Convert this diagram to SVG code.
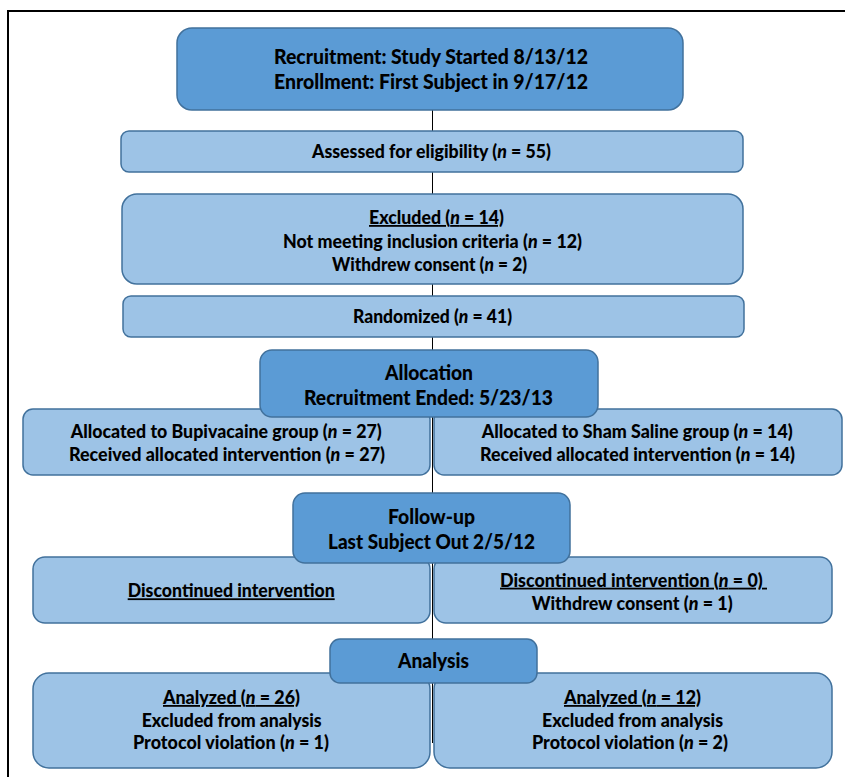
<svg xmlns="http://www.w3.org/2000/svg" width="845" height="777" viewBox="0 0 845 777">
<style>
text{font-family:Lato,"Liberation Sans",sans-serif;font-weight:900;fill:#000;text-anchor:start}
.s{font-size:18px}
.h{font-size:20px}
.i{font-style:italic}
.u{text-decoration:underline}
.dark{fill:#5b9bd5;stroke:#41719c;stroke-width:1.5}
.light{fill:#9dc3e6;stroke:#41719c;stroke-width:1.5}
</style>
<rect x="8" y="11" width="900" height="900" fill="#fff" stroke="#000" stroke-width="2"/>
<g id="connectors">
<line x1="432.5" y1="110" x2="432.5" y2="743" stroke="#000" stroke-width="1"/>
</g>
<g id="recruitment">
<rect class="dark" x="177" y="28" width="506" height="82" rx="15"/>
<text class="h" x="274" y="63.5" textLength="314" lengthAdjust="spacingAndGlyphs">Recruitment: Study Started 8/13/12</text>
<text class="h" x="274" y="89" textLength="314" lengthAdjust="spacingAndGlyphs">Enrollment: First Subject in 9/17/12</text>
</g>
<g id="assessed">
<rect class="light" x="121" y="131" width="622" height="41" rx="8"/>
<text class="s" x="312" y="157.7" textLength="239" lengthAdjust="spacingAndGlyphs">Assessed for eligibility (<tspan class="i">n</tspan> = 55)</text>
</g>
<g id="excluded">
<rect class="light" x="122" y="194" width="621" height="90" rx="15"/>
<text class="s u" x="369" y="224" textLength="135" lengthAdjust="spacingAndGlyphs">Excluded (<tspan class="i">n</tspan> = 14)</text>
<text class="s" x="283" y="247.7" textLength="299" lengthAdjust="spacingAndGlyphs">Not meeting inclusion criteria (<tspan class="i">n</tspan> = 12)</text>
<text class="s" x="332" y="270.7" textLength="195" lengthAdjust="spacingAndGlyphs">Withdrew consent (<tspan class="i">n</tspan> = 2)</text>
</g>
<g id="randomized">
<rect class="light" x="123" y="296" width="621" height="41" rx="8"/>
<text class="s" x="353" y="323.3" textLength="159" lengthAdjust="spacingAndGlyphs">Randomized (<tspan class="i">n</tspan> = 41)</text>
</g>
<g id="alloc-bupi">
<rect class="light" x="23" y="409" width="407" height="66" rx="10"/>
<text class="s" x="70.7" y="438.3" textLength="311" lengthAdjust="spacingAndGlyphs">Allocated to Bupivacaine group (<tspan class="i">n</tspan> = 27)</text>
<text class="s" x="69" y="460.7" textLength="316" lengthAdjust="spacingAndGlyphs">Received allocated intervention (<tspan class="i">n</tspan> = 27)</text>
</g>
<g id="alloc-sham">
<rect class="light" x="434" y="409" width="408" height="66" rx="10"/>
<text class="s" x="481.7" y="438.3" textLength="311" lengthAdjust="spacingAndGlyphs">Allocated to Sham Saline group (<tspan class="i">n</tspan> = 14)</text>
<text class="s" x="480" y="460.7" textLength="315" lengthAdjust="spacingAndGlyphs">Received allocated intervention (<tspan class="i">n</tspan> = 14)</text>
</g>
<g id="allocation">
<rect class="dark" x="260" y="350" width="338" height="67" rx="12"/>
<text class="h" x="385" y="380" textLength="88" lengthAdjust="spacingAndGlyphs">Allocation</text>
<text class="h" x="304" y="405" textLength="249" lengthAdjust="spacingAndGlyphs">Recruitment Ended: 5/23/13</text>
</g>
<g id="disc-left">
<rect class="light" x="33" y="557" width="397" height="66" rx="12"/>
<text class="s u" x="127.7" y="597.3" textLength="207" lengthAdjust="spacingAndGlyphs">Discontinued intervention</text>
</g>
<g id="disc-right">
<rect class="light" x="434" y="557" width="398" height="66" rx="12"/>
<text class="s u" x="500" y="586.7" textLength="267" lengthAdjust="spacingAndGlyphs">Discontinued intervention (<tspan class="i">n</tspan> = 0)&#160;</text>
<text class="s" x="531.7" y="610" textLength="201" lengthAdjust="spacingAndGlyphs">Withdrew consent (<tspan class="i">n</tspan> = 1)</text>
</g>
<g id="followup">
<rect class="dark" x="293" y="493" width="277" height="70" rx="12"/>
<text class="h" x="388" y="524" textLength="87" lengthAdjust="spacingAndGlyphs">Follow-up</text>
<text class="h" x="328" y="549.3" textLength="207" lengthAdjust="spacingAndGlyphs">Last Subject Out 2/5/12</text>
</g>
<g id="analyzed-left">
<rect class="light" x="33" y="673" width="397" height="95" rx="16"/>
<text class="s u" x="163" y="704" textLength="137" lengthAdjust="spacingAndGlyphs">Analyzed (<tspan class="i">n</tspan> = 26)</text>
<text class="s" x="141.7" y="726.7" textLength="180" lengthAdjust="spacingAndGlyphs">Excluded from analysis</text>
<text class="s" x="133" y="749.3" textLength="196" lengthAdjust="spacingAndGlyphs">Protocol violation (<tspan class="i">n</tspan> = 1)</text>
</g>
<g id="analyzed-right">
<rect class="light" x="434" y="673" width="398" height="95" rx="16"/>
<text class="s u" x="564" y="704" textLength="137" lengthAdjust="spacingAndGlyphs">Analyzed (<tspan class="i">n</tspan> = 12)</text>
<text class="s" x="542" y="726.7" textLength="181" lengthAdjust="spacingAndGlyphs">Excluded from analysis</text>
<text class="s" x="532" y="749.3" textLength="196" lengthAdjust="spacingAndGlyphs">Protocol violation (<tspan class="i">n</tspan> = 2)</text>
</g>
<g id="analysis">
<rect class="dark" x="330" y="639" width="207" height="44" rx="10"/>
<text class="h" x="398" y="668.3" textLength="71" lengthAdjust="spacingAndGlyphs">Analysis</text>
</g>
</svg>
